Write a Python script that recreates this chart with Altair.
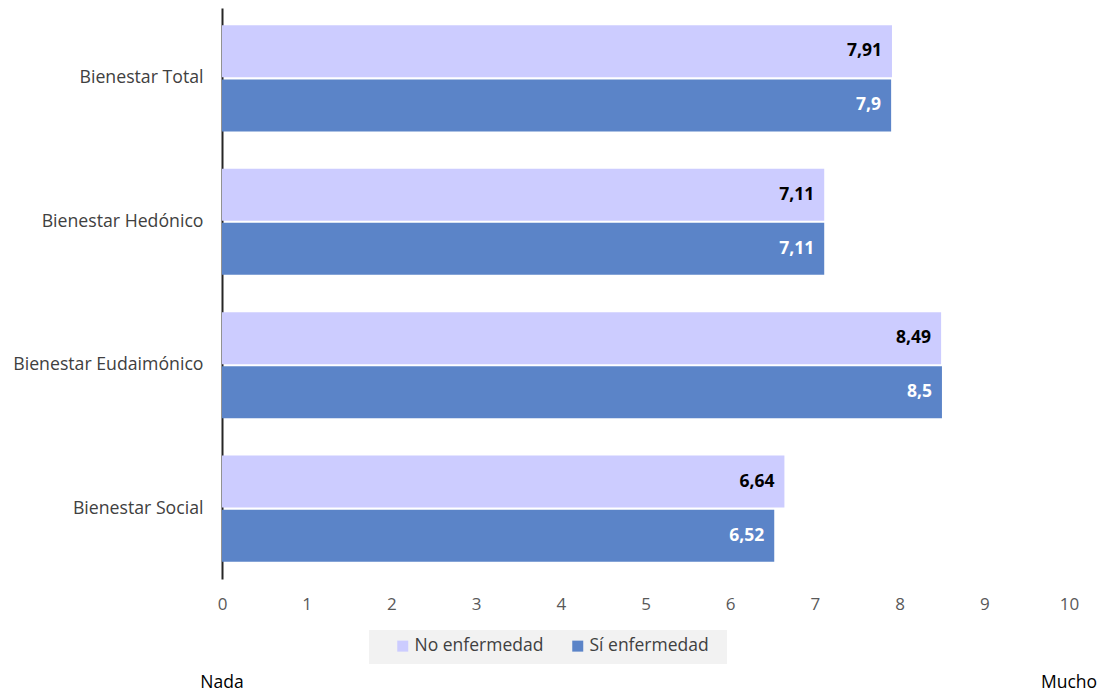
import altair as alt
import pandas as pd

categories = ["Bienestar Total", "Bienestar Hedónico", "Bienestar Eudaimónico", "Bienestar Social"]
series = ["No enfermedad", "Sí enfermedad"]
no_enf = [7.91, 7.11, 8.49, 6.64]
si_enf = [7.90, 7.11, 8.50, 6.52]
x_ticks = list(range(0, 11))
end_labels = ["Nada", "Mucho"]
end_values = [0, 10]
colors = ["#ccccff", "#5b84c8"]

FONT = "Open Sans"

rows = []
for c, a, b in zip(categories, no_enf, si_enf):
    for s, v in zip(series, [a, b]):
        rows.append({"cat": c, "serie": s, "val": v, "lab": f"{v:g}".replace(".", ",")})
df = pd.DataFrame(rows)

W, H = 847, 571

y_enc = alt.Y("cat:N", sort=categories, title=None,
              scale=alt.Scale(paddingInner=0.26, paddingOuter=0.12),
              axis=alt.Axis(ticks=False, labelPadding=19, labelFontSize=17.7,
                            labelColor="#404040", labelFont=FONT,
                            domainColor="#262626", domainWidth=2, labelLimit=300))
yoff = alt.YOffset("serie:N", sort=series, scale=alt.Scale(paddingInner=0.04))
x_enc = alt.X("val:Q", title=None,
              scale=alt.Scale(domain=[0, 10], nice=False),
              axis=alt.Axis(values=x_ticks, domain=False, ticks=False, grid=False,
                            labelFlush=False,
                            labelPadding=17, labelFontSize=17, labelColor="#595959",
                            labelFont=FONT, format="d"))

bg = alt.Chart(pd.DataFrame({"a": [0]})).mark_rect(color="#f2f2f2").encode(
    x=alt.value(147), x2=alt.value(505), y=alt.value(622), y2=alt.value(656))

bars = alt.Chart(df).mark_bar().encode(
    y=y_enc, yOffset=yoff, x=x_enc,
    color=alt.Color("serie:N", sort=series,
                    scale=alt.Scale(domain=series, range=colors),
                    legend=alt.Legend(title=None, orient="none", direction="horizontal",
                                      legendX=172, legendY=629,
                                      symbolType="square", symbolSize=121,
                                      symbolStrokeWidth=0, labelFontSize=17.5,
                                      labelFont=FONT, labelColor="#404040",
                                      labelOffset=3, columnPadding=25)))

texts = alt.Chart(df).mark_text(align="right", baseline="middle", dx=-10,
                                fontWeight="bold", fontSize=17.5, font=FONT).encode(
    y=alt.Y("cat:N", sort=categories), yOffset=alt.YOffset("serie:N", sort=series),
    x="val:Q", text="lab:N",
    color=alt.condition(alt.datum.serie == series[0], alt.value("#000000"), alt.value("#ffffff")))

ends = alt.Chart(pd.DataFrame({"x": end_values, "t": end_labels})).mark_text(
    fontSize=17.5, font=FONT, color="#000000", baseline="middle").encode(
    x=alt.X("x:Q"), y=alt.value(675), text="t:N")

chart = alt.layer(bg, bars, texts, ends).properties(
    width=W, height=H,
    autosize=alt.AutoSizeParams(type="none"),
    padding={"left": 214, "top": 0, "right": 30, "bottom": 116},
).configure_view(stroke=None)

chart.save("out.html", embed_options={"renderer": "svg", "actions": False})
